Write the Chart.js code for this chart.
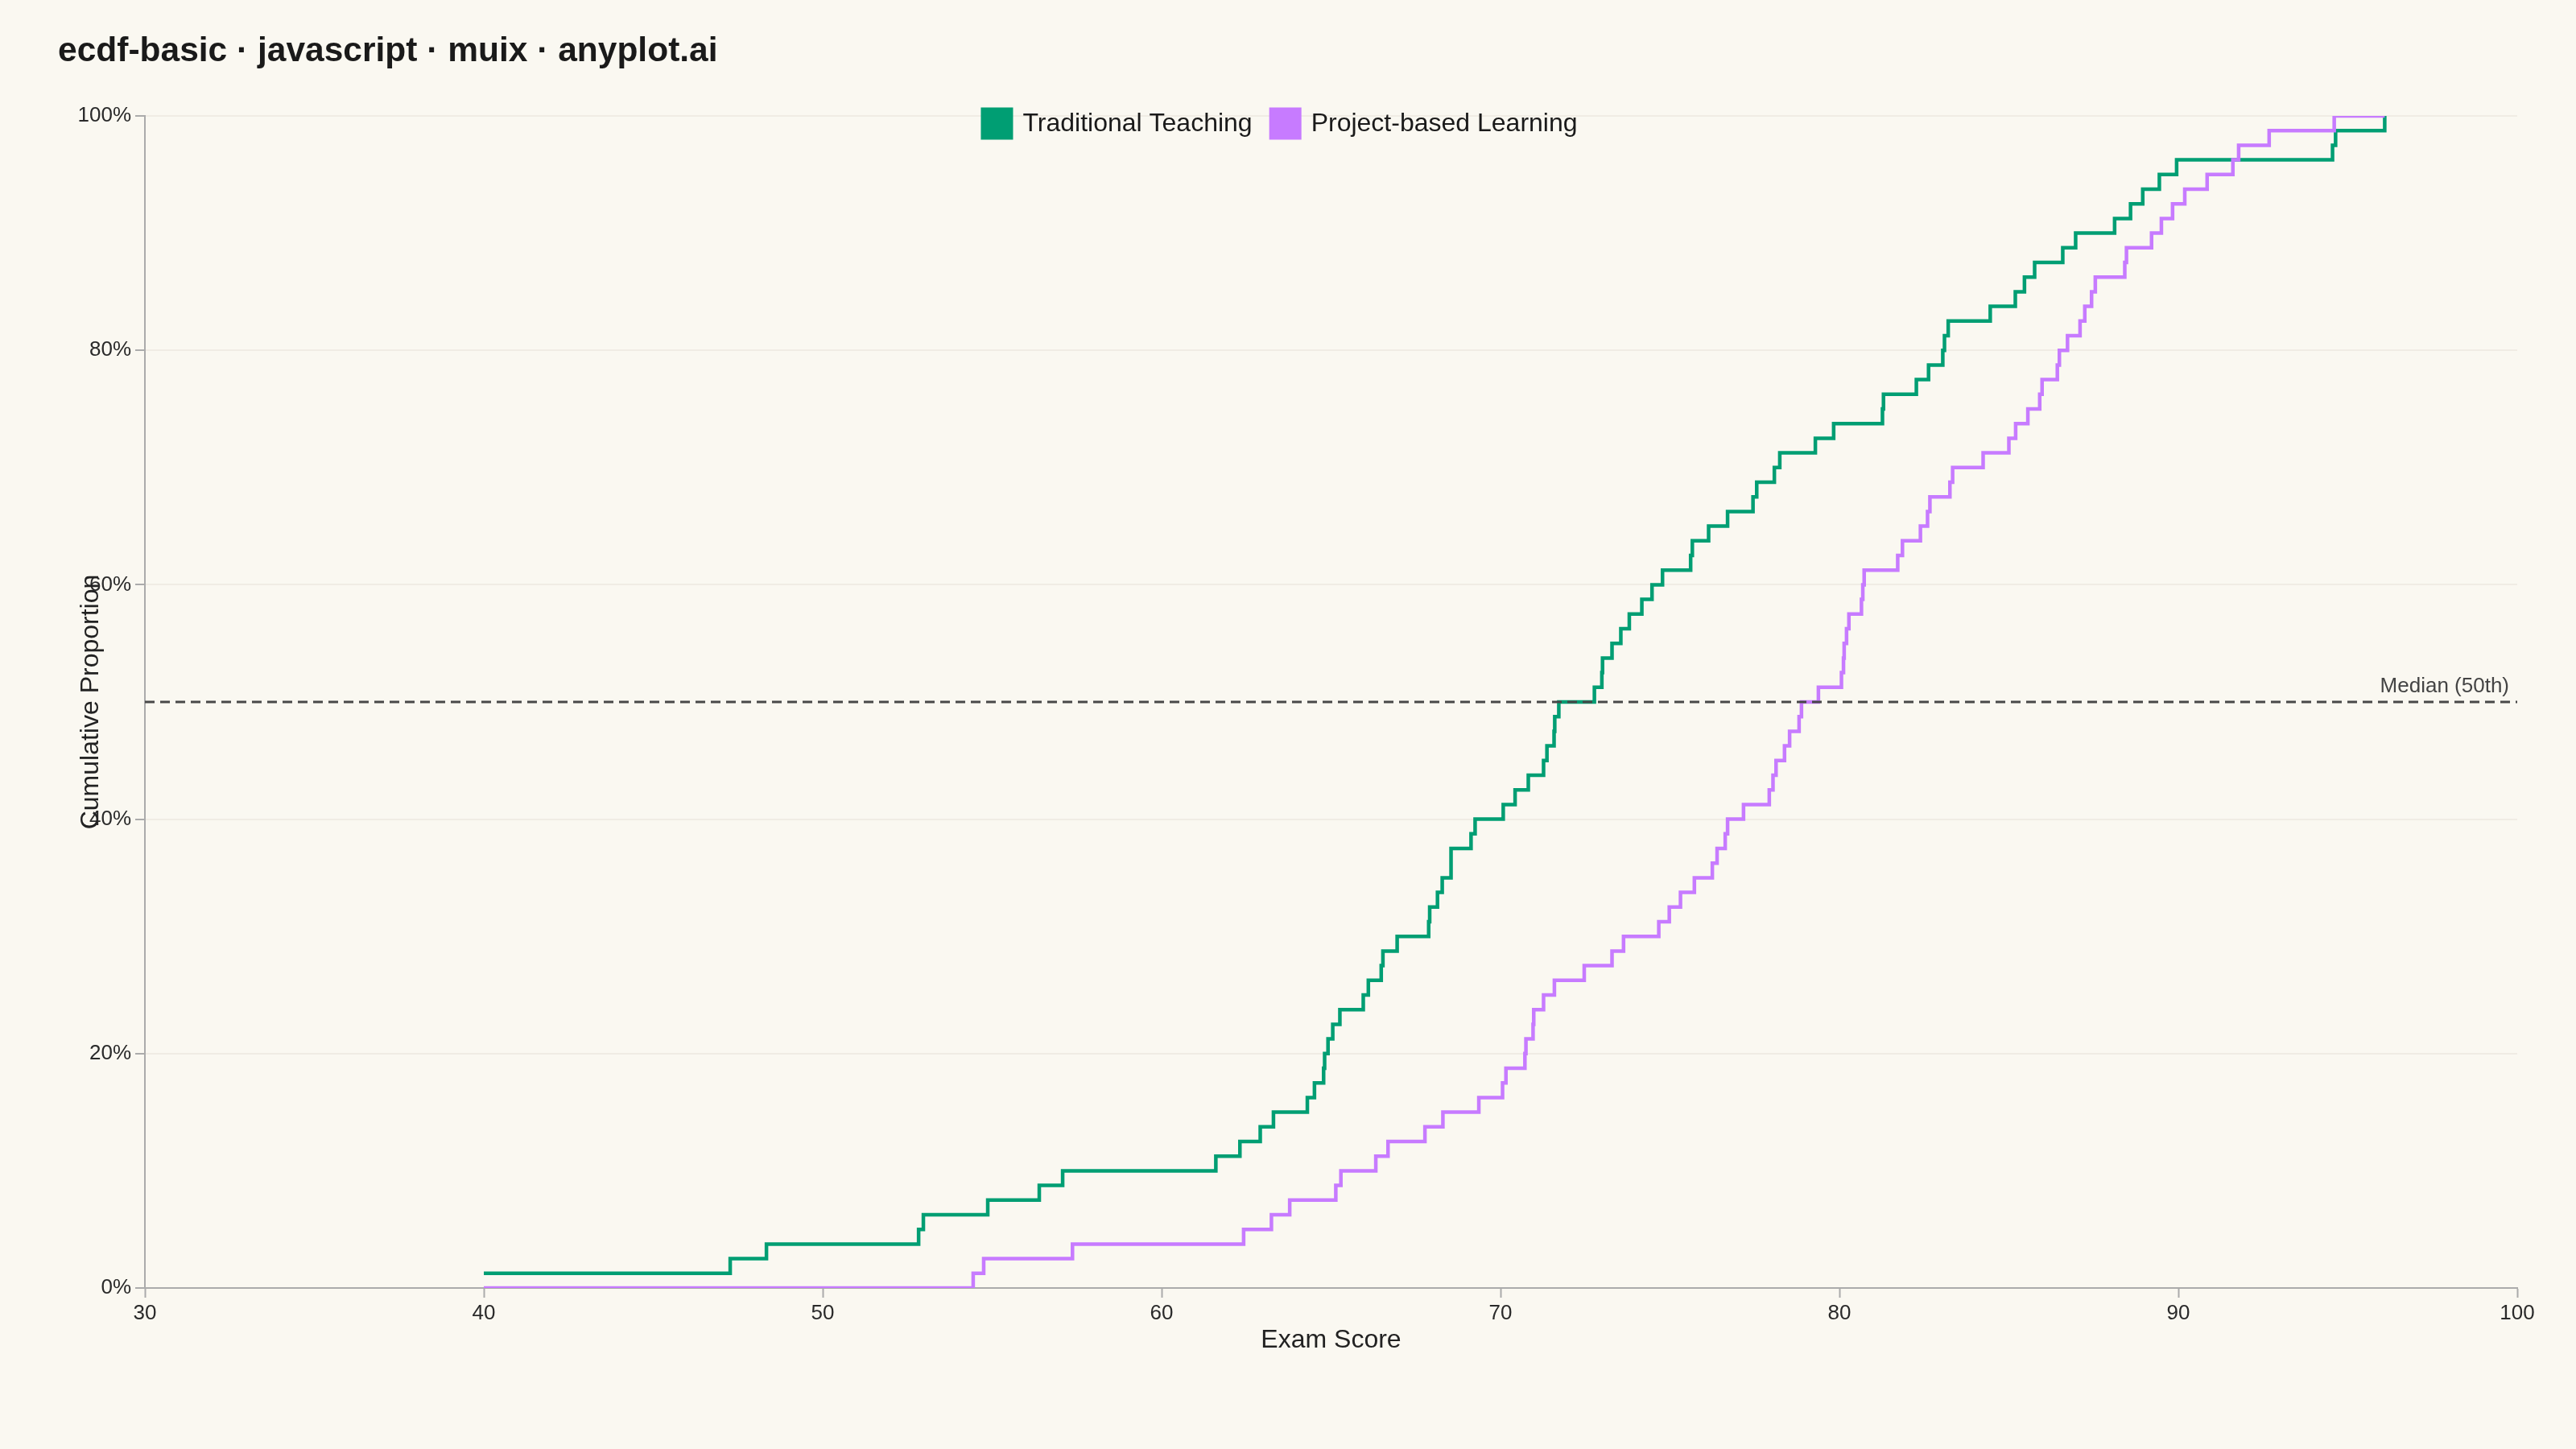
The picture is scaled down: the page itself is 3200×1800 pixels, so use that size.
<!DOCTYPE html>
<html><head><meta charset="utf-8">
<style>
html,body{margin:0;padding:0;background:#FAF8F1;}
#wrap{width:3200px;height:1800px;position:relative;}
canvas{display:block;}
</style>
<script src="https://cdn.jsdelivr.net/npm/chart.js@4.4.1/dist/chart.umd.min.js"></script>
</head><body><div id="wrap"><canvas id="c"></canvas></div>
<script>
const chartTitle = 'ecdf-basic · javascript · muix · anyplot.ai';
const seriesNames = ['Traditional Teaching', 'Project-based Learning'];
const seriesColors = ['#009E73', '#C77BFF'];
const traditionalScores = [40.0, 47.27, 48.34, 52.83, 52.97, 54.87, 56.39, 57.08, 61.6, 62.31,
  62.91, 63.30, 64.30, 64.51, 64.78, 64.81, 64.91, 65.05, 65.26, 65.95,
  66.10, 66.48, 66.53, 66.95, 67.88, 67.91, 68.14, 68.28, 68.54, 68.54,
  69.13, 69.25, 70.08, 70.43, 70.82, 71.27, 71.37, 71.58, 71.60, 71.72,
  72.77, 72.99, 73.01, 73.29, 73.55, 73.80, 74.17, 74.47, 74.78, 75.61,
  75.66, 76.14, 76.70, 77.45, 77.56, 78.08, 78.24, 79.29, 79.83, 81.27,
  81.30, 82.27, 82.63, 83.05, 83.10, 83.21, 84.45, 85.19, 85.46, 85.76,
  86.59, 86.97, 88.12, 88.59, 88.95, 89.44, 89.95, 94.55, 94.64, 96.09];
const projectScores = [54.44, 54.75, 57.37, 62.42, 63.24, 63.78, 65.14, 65.29, 66.32, 66.68,
  67.77, 68.30, 69.36, 70.06, 70.16, 70.72, 70.75, 70.96, 70.98, 71.27,
  71.59, 72.47, 73.29, 73.63, 74.67, 74.98, 75.31, 75.72, 76.25, 76.39,
  76.63, 76.70, 77.17, 77.93, 78.04, 78.13, 78.38, 78.53, 78.81, 78.88,
  79.38, 80.06, 80.12, 80.14, 80.21, 80.28, 80.65, 80.69, 80.73, 81.72,
  81.86, 82.39, 82.60, 82.67, 83.26, 83.34, 84.24, 85.00, 85.20, 85.56,
  85.91, 85.98, 86.43, 86.49, 86.73, 87.10, 87.24, 87.44, 87.55, 88.42,
  88.47, 89.21, 89.50, 89.83, 90.19, 90.85, 91.61, 91.78, 92.68, 94.60];
const xTickValues = [30, 40, 50, 60, 70, 80, 90, 100];
const yTickValues = [0, 0.2, 0.4, 0.6, 0.8, 1.0];
const medianLevel = 0.5;
const medianLabel = 'Median (50th)';
const xAxisTitle = 'Exam Score';
const yAxisTitle = 'Cumulative Proportion';

const FONT = "'Liberation Sans', Arial, Helvetica, sans-serif";
const BG = '#FAF8F1';
const AXIS = '#ABABAB';

// ECDF on the shared grid of observed scores
const grid = Array.from(new Set(traditionalScores.concat(projectScores))).sort((a, b) => a - b);
function ecdf(values) {
  const n = values.length;
  return grid.map(x => ({ x: x, y: values.filter(v => v <= x).length / n }));
}

const decor = {
  id: 'decor',
  beforeDraw(chart) {
    const ctx = chart.ctx;
    ctx.save();
    ctx.fillStyle = BG;
    ctx.fillRect(0, 0, chart.width, chart.height);
    ctx.restore();
  },
  afterDatasetsDraw(chart) {
    const ctx = chart.ctx, a = chart.chartArea;
    const y = chart.scales.y.getPixelForValue(medianLevel);
    ctx.save();
    ctx.strokeStyle = '#484848';
    ctx.lineWidth = 3;
    ctx.setLineDash([12, 7]);
    ctx.beginPath();
    ctx.moveTo(a.left, y);
    ctx.lineTo(a.right, y);
    ctx.stroke();
    ctx.setLineDash([]);
    ctx.fillStyle = '#444444';
    ctx.font = '26px ' + FONT;
    ctx.textAlign = 'right';
    ctx.textBaseline = 'alphabetic';
    ctx.fillText(medianLabel, a.right - 10, y - 12);
    ctx.restore();
  },
  afterDraw(chart) {
    const ctx = chart.ctx, a = chart.chartArea;
    ctx.save();
    // title
    ctx.fillStyle = '#1A1A1A';
    ctx.font = 'bold 42.5px ' + FONT;
    ctx.textAlign = 'left';
    ctx.textBaseline = 'alphabetic';
    ctx.fillText(chartTitle, 72, 76);
    // x axis title
    ctx.fillStyle = '#222222';
    ctx.font = '32px ' + FONT;
    ctx.textAlign = 'center';
    ctx.textBaseline = 'middle';
    ctx.fillText(xAxisTitle, (a.left + a.right) / 2, 1665);
    // y axis title
    ctx.save();
    ctx.translate(113, (a.top + a.bottom) / 2);
    ctx.rotate(-Math.PI / 2);
    ctx.fillText(yAxisTitle, 0, 0);
    ctx.restore();
    // legend
    ctx.font = '32px ' + FONT;
    const box = 40, gapText = 12, gapItem = 21;
    const widths = seriesNames.map(s => ctx.measureText(s).width);
    let total = 0;
    widths.forEach((w, i) => { total += box + gapText + w + (i < widths.length - 1 ? gapItem : 0); });
    let x = 1589 - total / 2;
    const cy = 153.5;
    ctx.textAlign = 'left';
    ctx.textBaseline = 'middle';
    seriesNames.forEach((s, i) => {
      ctx.fillStyle = seriesColors[i];
      ctx.fillRect(x, cy - box / 2, box, box);
      x += box + gapText;
      ctx.fillStyle = '#1A1A1A';
      ctx.fillText(s, x, cy + 1);
      x += widths[i] + gapItem;
    });
    ctx.restore();
  }
};

new Chart(document.getElementById('c'), {
  type: 'line',
  data: {
    datasets: [
      { label: seriesNames[0], data: ecdf(traditionalScores), borderColor: seriesColors[0], backgroundColor: seriesColors[0],
        borderWidth: 4.5, stepped: 'before', pointRadius: 0, fill: false, order: 1, clip: 0 },
      { label: seriesNames[1], data: ecdf(projectScores), borderColor: seriesColors[1], backgroundColor: seriesColors[1],
        borderWidth: 4.5, stepped: 'before', pointRadius: 0, fill: false, order: 0, clip: 0 }
    ]
  },
  options: {
    responsive: true,
    maintainAspectRatio: false,
    animation: false,
    events: [],
    layout: { padding: { left: 70, right: 73, top: 144, bottom: 0 } },
    plugins: { legend: { display: false }, title: { display: false }, tooltip: { enabled: false } },
    scales: {
      x: {
        type: 'linear', min: 30, max: 100,
        afterBuildTicks: s => { s.ticks = xTickValues.map(v => ({ value: v })); },
        afterFit: s => { s.height = 200; },
        ticks: { font: { size: 26, family: FONT }, color: '#2A2A2A', padding: 4, maxRotation: 0, autoSkip: false },
        grid: { drawOnChartArea: false, drawTicks: true, tickLength: 12, tickColor: AXIS, tickWidth: 2 },
        border: { color: AXIS, width: 2 }
      },
      y: {
        type: 'linear', min: 0, max: 1,
        afterBuildTicks: s => { s.ticks = yTickValues.map(v => ({ value: v })); },
        afterFit: s => { s.width = 110; },
        ticks: { font: { size: 26, family: FONT }, color: '#2A2A2A', padding: 5, autoSkip: false,
          callback: v => Math.round(v * 100) + '%' },
        grid: { color: '#F0ECE4', lineWidth: 2, drawTicks: true, tickLength: 12, tickColor: AXIS, tickWidth: 2 },
        border: { color: AXIS, width: 2 }
      }
    }
  },
  plugins: [decor]
});
</script>
</body></html>
